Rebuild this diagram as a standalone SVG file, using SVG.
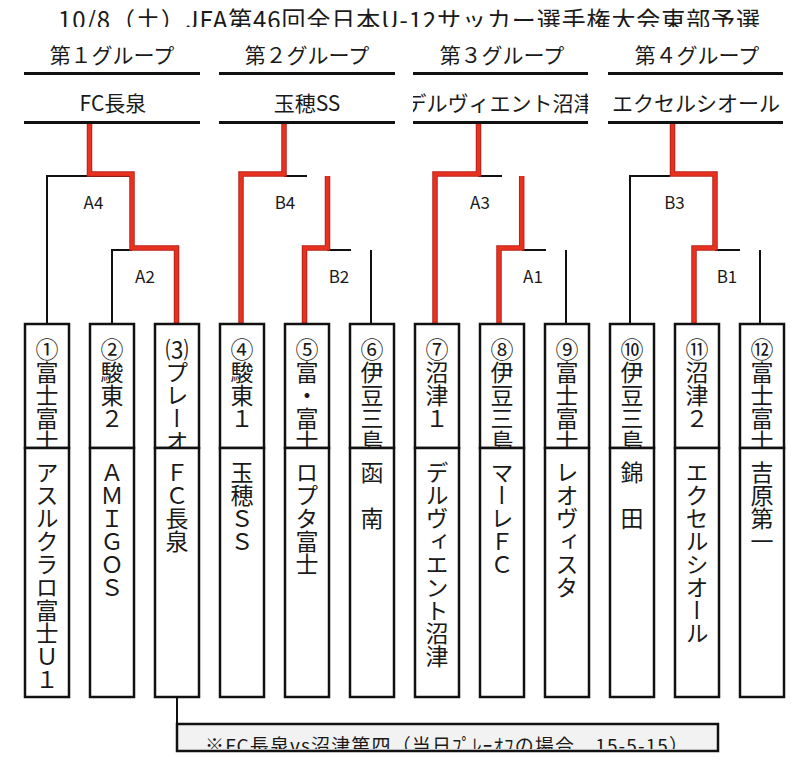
<svg xmlns="http://www.w3.org/2000/svg" width="800" height="759" viewBox="0 0 800 759">
<style>
text{font-family:"Noto Sans CJK JP","Noto Sans",sans-serif;fill:#1a1a1a}
.title{font-size:24px}
.hdr{font-size:21px;text-anchor:middle}
.lbl{font-size:17px;text-anchor:middle}
.vt{font-size:23px;writing-mode:vertical-rl;text-orientation:upright}
.note{font-size:19px}
.box{fill:#fff;stroke:#111;stroke-width:2.5}
.hl{stroke:#111;stroke-width:3}
.bk{fill:none;stroke:#111;stroke-width:2}
.rdo{fill:none;stroke:#b9221a;stroke-width:5.5}
.rd{fill:none;stroke:#e8321f;stroke-width:3.5}
</style>
<defs>
<clipPath id="cTitle"><rect x="0" y="0" width="800" height="27"/></clipPath>
<clipPath id="cG3"><rect x="413" y="80" width="175" height="40"/></clipPath>
<clipPath id="cUp"><rect x="0" y="325" width="800" height="122"/></clipPath>
<clipPath id="cNote"><rect x="177" y="725" width="541" height="24"/></clipPath>
</defs>
<rect width="800" height="759" fill="#fff"/>
<g id="title"><text class="title" x="58" y="29" textLength="702" clip-path="url(#cTitle)">10/8（土）JFA第46回全日本U-12サッカー選手権大会東部予選</text></g>
<g id="groups">
<g id="group1"><text class="hdr" x="112" y="63">第１グループ</text><line class="hl" x1="24" y1="73.5" x2="200" y2="73.5"/><text class="hdr" x="113" y="111">FC長泉</text><line class="hl" x1="24" y1="122.5" x2="200" y2="122.5"/></g>
<g id="group2"><text class="hdr" x="307" y="63">第２グループ</text><line class="hl" x1="219" y1="73.5" x2="395" y2="73.5"/><text class="hdr" x="307" y="111">玉穂SS</text><line class="hl" x1="219" y1="122.5" x2="395" y2="122.5"/></g>
<g id="group3"><text class="hdr" x="502" y="63">第３グループ</text><line class="hl" x1="413" y1="73.5" x2="588" y2="73.5"/><text class="hdr" x="500" y="111" clip-path="url(#cG3)">デルヴィエント沼津</text><line class="hl" x1="413" y1="122.5" x2="588" y2="122.5"/></g>
<g id="group4"><text class="hdr" x="697" y="63">第４グループ</text><line class="hl" x1="608" y1="73.5" x2="783" y2="73.5"/><text class="hdr" x="696" y="111">エクセルシオール</text><line class="hl" x1="608" y1="122.5" x2="783" y2="122.5"/></g>
</g>
<g id="connectors">
<path class="bk" d="M47,324V176H132M112,324V250H132"/>
<path class="bk" d="M284,176H307M327,250H351M371,250V324"/>
<path class="bk" d="M478,176H502M522,250H546M566,250V324"/>
<path class="bk" d="M630,324V176H670M715,250H740M760,250V324"/>
<path class="bk" d="M177,697V724"/>
<g id="red">
<path class="rdo" d="M89.5,124V174H132V248H176.5V324"/>
<path class="rdo" d="M284,124V174H241V324M327.5,176V248H304.5V324"/>
<path class="rdo" d="M478.5,124V174H435V324M521.7,176V248H499V324"/>
<path class="rdo" d="M672.5,124V174H715V248H694V324"/>
<path class="rd" d="M89.5,124V174H132V248H176.5V324"/>
<path class="rd" d="M284,124V174H241V324M327.5,176V248H304.5V324"/>
<path class="rd" d="M478.5,124V174H435V324M521.7,176V248H499V324"/>
<path class="rd" d="M672.5,124V174H715V248H694V324"/>
</g>
<text class="lbl" x="93.5" y="209">A4</text>
<text class="lbl" x="145" y="282.5">A2</text>
<text class="lbl" x="285" y="209">B4</text>
<text class="lbl" x="339" y="282.5">B2</text>
<text class="lbl" x="480" y="209">A3</text>
<text class="lbl" x="533" y="282.5">A1</text>
<text class="lbl" x="674.5" y="209">B3</text>
<text class="lbl" x="727" y="282.5">B1</text>
</g>
<g id="teams">
<g id="team1"><rect class="box" x="25" y="324" width="44" height="124"/><rect class="box" x="25" y="448" width="44" height="249"/><text class="vt" x="47" y="338" clip-path="url(#cUp)">①富士富士</text><text class="vt" x="47" y="461">アスルクラロ富士Ｕ１</text></g>
<g id="team2"><rect class="box" x="90" y="324" width="44" height="124"/><rect class="box" x="90" y="448" width="44" height="249"/><text class="vt" x="112" y="338" clip-path="url(#cUp)">②駿東２</text><text class="vt" x="112" y="461">ＡＭＩＧＯＳ</text></g>
<g id="team3"><rect class="box" x="155" y="324" width="44" height="124"/><rect class="box" x="155" y="448" width="44" height="249"/><text class="vt" x="177" y="338" clip-path="url(#cUp)">⑶プレーオ</text><text class="vt" x="177" y="461">ＦＣ長泉</text></g>
<g id="team4"><rect class="box" x="220" y="324" width="44" height="124"/><rect class="box" x="220" y="448" width="44" height="249"/><text class="vt" x="242" y="338" clip-path="url(#cUp)">④駿東１</text><text class="vt" x="242" y="461">玉穂ＳＳ</text></g>
<g id="team5"><rect class="box" x="285" y="324" width="44" height="124"/><rect class="box" x="285" y="448" width="44" height="249"/><text class="vt" x="307" y="338" clip-path="url(#cUp)">⑤富・富士</text><text class="vt" x="307" y="461">ロプタ富士</text></g>
<g id="team6"><rect class="box" x="350" y="324" width="44" height="124"/><rect class="box" x="350" y="448" width="44" height="249"/><text class="vt" x="372" y="338" clip-path="url(#cUp)">⑥伊豆三島</text><text class="vt" x="372" y="461">函　南</text></g>
<g id="team7"><rect class="box" x="415" y="324" width="44" height="124"/><rect class="box" x="415" y="448" width="44" height="249"/><text class="vt" x="437" y="338" clip-path="url(#cUp)">⑦沼津１</text><text class="vt" x="437" y="461">デルヴィエント沼津</text></g>
<g id="team8"><rect class="box" x="480" y="324" width="44" height="124"/><rect class="box" x="480" y="448" width="44" height="249"/><text class="vt" x="502" y="338" clip-path="url(#cUp)">⑧伊豆三島</text><text class="vt" x="502" y="461">マーレＦＣ</text></g>
<g id="team9"><rect class="box" x="545" y="324" width="44" height="124"/><rect class="box" x="545" y="448" width="44" height="249"/><text class="vt" x="567" y="338" clip-path="url(#cUp)">⑨富士富士</text><text class="vt" x="567" y="461">レオヴィスタ</text></g>
<g id="team10"><rect class="box" x="610" y="324" width="44" height="124"/><rect class="box" x="610" y="448" width="44" height="249"/><text class="vt" x="632" y="338" clip-path="url(#cUp)">⑩伊豆三島</text><text class="vt" x="632" y="461">錦　田</text></g>
<g id="team11"><rect class="box" x="675" y="324" width="44" height="124"/><rect class="box" x="675" y="448" width="44" height="249"/><text class="vt" x="697" y="338" clip-path="url(#cUp)">⑪沼津２</text><text class="vt" x="697" y="461">エクセルシオール</text></g>
<g id="team12"><rect class="box" x="740" y="324" width="44" height="124"/><rect class="box" x="740" y="448" width="44" height="249"/><text class="vt" x="762" y="338" clip-path="url(#cUp)">⑫富士富士</text><text class="vt" x="762" y="461">吉原第一</text></g>
</g>
<g id="note">
<rect x="177" y="724" width="541" height="27" fill="#f2f2f2"/>
<text class="note" x="205" y="753" textLength="483" clip-path="url(#cNote)">※FC長泉vs沼津第四（当日ﾌﾟﾚｰｵﾌの場合、15-5-15）</text>
<rect x="177" y="724" width="541" height="27" fill="none" stroke="#111" stroke-width="2.5"/>
</g>
</svg>
